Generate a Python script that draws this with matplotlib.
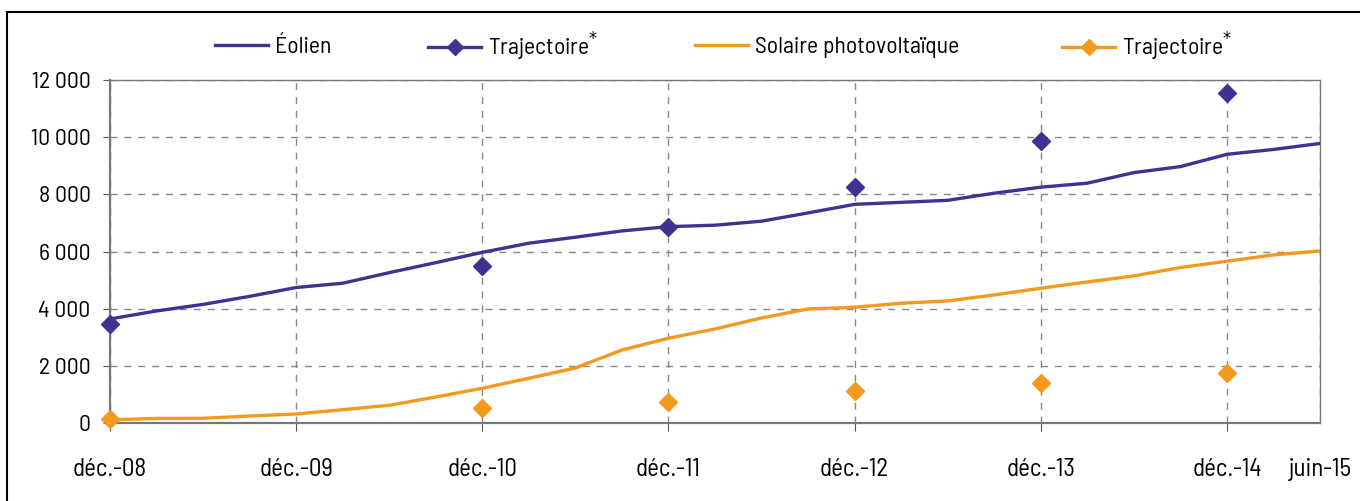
import matplotlib
matplotlib.use("Agg")
import matplotlib.pyplot as plt
from matplotlib.lines import Line2D
from matplotlib.ticker import FuncFormatter

plt.rcParams['font.family'] = ['Barlow Semi Condensed', 'Archivo Narrow',
                               'Liberation Sans Narrow', 'DejaVu Sans']

# quarter index (0 = déc.-08 ... 26 = juin-15)
quarters = list(range(27))
eolien = [3640, 3920, 4150, 4430, 4740, 4890, 5260, 5610, 5970, 6290, 6500,
          6720, 6870, 6920, 7060, 7350, 7650, 7720, 7790, 8040, 8250, 8390,
          8760, 8970, 9400, 9570, 9780]
solaire = [110, 160, 165, 245, 315, 465, 620, 910, 1215, 1565, 1925,
           2555, 2965, 3290, 3675, 3990, 4050, 4190, 4270, 4480, 4715, 4935,
           5145, 5440, 5660, 5880, 6020]
traj_q = [0, 8, 12, 16, 20, 24]
traj_eolien = [3470, 5510, 6850, 8240, 9870, 11540]
traj_solaire = [140, 540, 750, 1110, 1400, 1740]

tick_pos = [0, 4, 8, 12, 16, 20, 24, 26]
tick_labels = ['déc.-08', 'déc.-09', 'déc.-10', 'déc.-11', 'déc.-12',
               'déc.-13', 'déc.-14', 'juin-15']
series_labels = ['Éolien', 'Trajectoire$^{*}$', 'Solaire photovoltaïque',
                 'Trajectoire$^{*}$']

purple = '#3F3290'
orange = '#F39A1E'
FS = 17

fig = plt.figure(figsize=(13.6, 5.01), dpi=100)
ax = fig.add_axes([110/1360, 78/501, 1210/1360, 343/501])

ax.plot(quarters, eolien, color=purple, lw=2.4, zorder=3)
ax.plot(quarters, solaire, color=orange, lw=2.4, zorder=3)
ax.plot(traj_q, traj_eolien, ls='none', marker='D', ms=9.5, color=purple,
        zorder=4, clip_on=False)
ax.plot(traj_q, traj_solaire, ls='none', marker='D', ms=9.5, color=orange,
        zorder=4, clip_on=False)

ax.set_xlim(0, 26)
ax.set_ylim(0, 12000)
ax.set_yticks(range(0, 12001, 2000))
ax.yaxis.set_major_formatter(FuncFormatter(
    lambda v, p: f"{int(v):,}".replace(',', ' ')))
ax.set_xticks(tick_pos)
ax.set_xticklabels(tick_labels)
ax.tick_params(axis='both', labelsize=FS, colors='#555555', labelcolor='black')
ax.tick_params(axis='x', labelsize=18, length=6, pad=19)
ax.tick_params(axis='y', length=5, pad=9)
ax.xaxis.get_major_ticks()[-1].tick1line.set_visible(False)

ax.grid(True, which='major', color='#888888', ls=(0, (5, 5)), lw=1)
for s in ['top', 'right', 'left', 'bottom']:
    ax.spines[s].set_color('#777777')
ax.spines['left'].set_linewidth(1.6)
ax.spines['bottom'].set_linewidth(1.6)
ax.spines['top'].set_linewidth(1)
ax.spines['right'].set_linewidth(1)
ax.set_axisbelow(True)

handles = [
    Line2D([], [], color=purple, lw=2.4),
    Line2D([], [], color=purple, lw=2.4, marker='D', ms=8.5),
    Line2D([], [], color=orange, lw=2.4),
    Line2D([], [], color=orange, lw=2.4, marker='D', ms=8.5),
]
legend_x = [215, 428, 695, 1062]
for h, lab, xp in zip(handles, series_labels, legend_x):
    fig.legend([h], [lab], loc='center left',
               bbox_to_anchor=(xp/1360, 1 - 47/501), frameon=False,
               fontsize=FS, handlelength=2.25, handletextpad=0.3,
               borderpad=0, borderaxespad=0)

# outer frame
fig.add_artist(Line2D([7/1360, 1.0], [1 - 12/501, 1 - 12/501],
                      transform=fig.transFigure, color='black', lw=1.5))
fig.add_artist(Line2D([7/1360, 7/1360], [0, 1 - 12/501],
                      transform=fig.transFigure, color='black', lw=1.5))

fig.savefig('out.png', dpi=100)
